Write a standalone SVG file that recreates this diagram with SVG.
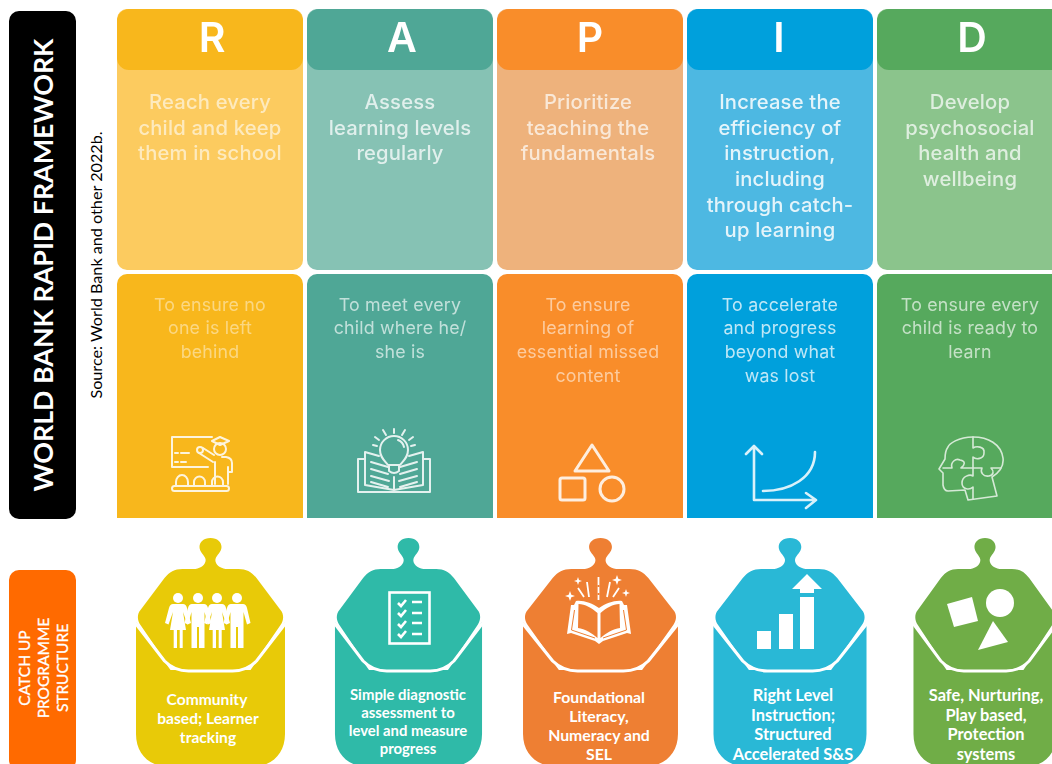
<svg xmlns="http://www.w3.org/2000/svg" xmlns:xlink="http://www.w3.org/1999/xlink" width="1052" height="764" viewBox="0 0 1052 764">
<style>
.up{font:500 20.2px Inter,"Noto Sans",sans-serif;fill:#fff;text-anchor:middle;letter-spacing:.2px}
.lo{font:400 17.8px Inter,"Noto Sans",sans-serif;fill:#fff;text-anchor:middle;letter-spacing:.2px}
.hd{font:600 41px Inter,"Noto Sans",sans-serif;fill:#fff;text-anchor:middle}
.pod{font:700 15.6px Lato,sans-serif;fill:#fff;text-anchor:middle}
.p2{font-size:14.9px}
.p3{font-size:15.8px}
.p4{font-size:16.4px}
.ic{fill:none;stroke:#fff;stroke-width:2;stroke-linecap:round;stroke-linejoin:round;opacity:.85}
.w{fill:#fff}
.wl{fill:none;stroke:#fff;stroke-width:2.6}
.side{font:400 15.5px Lato,sans-serif;fill:#fff;stroke:#fff;stroke-width:.3;text-anchor:middle}
</style>
<defs>
<filter id="soft" x="-5%" y="-5%" width="110%" height="110%"><feGaussianBlur stdDeviation="0.5"/></filter>
<g id="shell">
<path d="M0,538C7,538 11,542 11,547C11,552 6,555 5,559C4,564 9,568 15,569L28,569C36,569 41,572 46,578L70,610C73.500,614 73.500,620 70,625L46,660C38,668 30,670 22,670L-22,670C-30,670 -38,668 -46,660L-70,625C-73.500,620 -73.500,614 -70,610L-46,578C-41,572 -36,569 -28,569L-15,569C-9,568 -4,564 -5,559C-6,555 -11,552 -11,547C-11,542 -7,538 0,538Z"/>
<path d="M-74.500,622L-74.500,734C-74.500,755 -60,767 -40,767L40,767C60,767 74.500,755 74.500,734L74.500,622L40,670L-40,670Z"/>
<path d="M-76,622L-46,661C-38,669 -30,671 -22,671L22,671C30,671 38,669 46,661L76,622" fill="none" stroke="#fff" stroke-width="3"/>
</g>
<g id="person-m" class="w"><circle cx="0" cy="598" r="5"/><path d="M-6,604H6Q9,604 10,608L13.500,623L10,624.500L6.500,612V648H1V627H-1V648H-6.500V612L-10,624.500L-13.500,623L-10,608Q-9,604 -6,604Z"/></g>
<g id="person-f" class="w"><circle cx="0" cy="598" r="5"/><path d="M-5,604H5Q8,604 9,608L13,623L9.500,624.500L5,612L8,630H4.700V648H1.700V630H-1V648H-4.300V630H-8L-5,612L-9.500,624.500L-13,623L-9,608Q-8,604 -5,604Z"/></g>
</defs>
<rect width="1052" height="764" fill="#fff"/>

<g id="label-framework">
<rect x="9" y="11" width="67" height="508" rx="10" fill="#000"/>
<text transform="translate(53,265) rotate(-90)" text-anchor="middle" style="font:700 26.800px Lato,sans-serif;fill:#fff">WORLD BANK RAPID FRAMEWORK</text>
</g>
<g id="source">
<text transform="translate(102,265) rotate(-90)" text-anchor="middle" style="font:400 16.200px Lato,sans-serif;fill:#000">Source: World Bank and other 2022b.</text>
</g>

<g id="col-r" filter="url(#soft)">
<rect x="117" y="9" width="186" height="261" rx="10" fill="#fccb5e"/>
<rect x="117" y="9" width="186" height="61" rx="12" fill="#f8b71c"/>
<path d="M117,518V284a10,10 0 0 1 10-10H293a10,10 0 0 1 10,10V518Z" fill="#f8b71c"/>
<text class="hd" x="212" y="52">R</text>
<g opacity=".6"><text class="up" x="210" y="109">Reach every</text><text class="up" x="210" y="135">child and keep</text><text class="up" x="210" y="160">them in school</text></g>
<g opacity=".45"><text class="lo" x="210" y="311">To ensure no</text><text class="lo" x="210" y="334">one is left</text><text class="lo" x="210" y="358">behind</text></g>
<g class="ic"><path d="M212,437H172V467H208M175,453h3M181,453h8M175,462h3M181,462h5M203,448L214,455M199,453L213,462M222,457H226Q232,458 232,463V472H228V467M215,462V484M228,472V484"/><circle cx="200" cy="450" r="3"/><circle cx="220" cy="449" r="6"/><path d="M212,441L220,437L229,441L220,445ZM176,486V482a6,7 0 0 1 12,0V486M194,486V482a5.500,5.500 0 0 1 11,0V486M212,486V482a5.500,5.500 0 0 1 11,0V486"/><rect x="172" y="486" width="57" height="5" rx="2.500"/></g>
</g>

<g id="col-a" filter="url(#soft)">
<rect x="307" y="9" width="186" height="261" rx="10" fill="#86c2b4"/>
<rect x="307" y="9" width="186" height="61" rx="12" fill="#4fa796"/>
<path d="M307,518V284a10,10 0 0 1 10-10H483a10,10 0 0 1 10,10V518Z" fill="#4fa796"/>
<text class="hd" x="402" y="52">A</text>
<g opacity=".75"><text class="up" x="400" y="109">Assess</text><text class="up" x="400" y="135">learning levels</text><text class="up" x="400" y="160">regularly</text></g>
<g opacity=".65"><text class="lo" x="400" y="311">To meet every</text><text class="lo" x="400" y="334">child where he/</text><text class="lo" x="400" y="358">she is</text></g>
<g class="ic"><path d="M388,465C384,460 380,457 380,450a14,14 0 0 1 28,0C408,457 404,460 400,465ZM389,465V471Q394,475 399,471V465M398,440Q403,442 404,447M394,429V433M383,430L386,435M405,430L402,435M375,437L379,440M413,437L409,440M373,445L377,446M415,445L411,446"/><path d="M379,456L365,452V485L394,490L423,485V452L409,456M365,459H358V492H430V459H423M394,477V492M371,462L388,467M371,469L388,474M371,476L389,481M371,482L388,487M417,462L400,467M417,469L400,474M417,476L399,481M417,482L400,487"/></g>
</g>

<g id="col-p" filter="url(#soft)">
<rect x="497" y="9" width="186" height="261" rx="10" fill="#eeb27b"/>
<rect x="497" y="9" width="186" height="61" rx="12" fill="#f98d2a"/>
<path d="M497,518V284a10,10 0 0 1 10-10H673a10,10 0 0 1 10,10V518Z" fill="#f98d2a"/>
<text class="hd" x="590" y="52">P</text>
<g opacity=".7"><text class="up" x="588" y="109">Prioritize</text><text class="up" x="588" y="135">teaching the</text><text class="up" x="588" y="160">fundamentals</text></g>
<g opacity=".55"><text class="lo" x="588" y="311">To ensure</text><text class="lo" x="588" y="334">learning of</text><text class="lo" x="588" y="358">essential missed</text><text class="lo" x="588" y="382">content</text></g>
<g class="ic" style="stroke-width:3"><path d="M592,445L609,471H575Z"/><rect x="560" y="478" width="25" height="22" rx="2"/><circle cx="612" cy="489" r="12"/></g>
</g>

<g id="col-i" filter="url(#soft)">
<rect x="687" y="9" width="186" height="261" rx="10" fill="#4db8e2"/>
<rect x="687" y="9" width="186" height="61" rx="12" fill="#00a0dc"/>
<path d="M687,518V284a10,10 0 0 1 10-10H863a10,10 0 0 1 10,10V518Z" fill="#00a0dc"/>
<text class="hd" x="779" y="52">I</text>
<g opacity=".85"><text class="up" x="780" y="109">Increase the</text><text class="up" x="780" y="135">efficiency of</text><text class="up" x="780" y="160">instruction,</text><text class="up" x="780" y="186">including</text><text class="up" x="780" y="212">through catch-</text><text class="up" x="780" y="237">up learning</text></g>
<g opacity=".75"><text class="lo" x="780" y="311">To accelerate</text><text class="lo" x="780" y="334">and progress</text><text class="lo" x="780" y="358">beyond what</text><text class="lo" x="780" y="382">was lost</text></g>
<g class="ic" style="stroke-width:2.600"><path d="M754,446V500H815M746,454L754,446L762,454M806,493L816,500L806,508M763,491C790,491 815,478 815,452"/></g>
</g>

<g id="col-d" filter="url(#soft)">
<rect x="877" y="9" width="190" height="261" rx="10" fill="#8bc48c"/>
<rect x="877" y="9" width="190" height="61" rx="12" fill="#57a95d"/>
<path d="M877,518V284a10,10 0 0 1 10-10H1080V518Z" fill="#57a95d"/>
<text class="hd" x="972" y="52">D</text>
<g opacity=".72"><text class="up" x="970" y="109">Develop</text><text class="up" x="970" y="135">psychosocial</text><text class="up" x="970" y="160">health and</text><text class="up" x="970" y="186">wellbeing</text></g>
<g opacity=".65"><text class="lo" x="970" y="311">To ensure every</text><text class="lo" x="970" y="334">child is ready to</text><text class="lo" x="970" y="358">learn</text></g>
<g class="ic" style="stroke-width:1.600;opacity:.75"><path d="M968,500L997,496L992,477C1000,472 1004,466 1003,458C1001,444 988,437 973,437C958,437 949,444 948,447C945,451 945,455 945,459L939,469L943,473V485Q944,491 948,491L965,490Z"/><path d="M973,437V448C976,446 985,446 984,453C984,459 976,460 973,457V476C970,474 962,476 962,483C962,490 970,490 973,487V499"/><path d="M943,468H952C950,462 956,458 960,460C966,461 965,465 961,468H982C980,472 983,477 989,476C994,475 994,471 991,468H1001"/></g>
</g>

<g id="label-catchup">
<rect x="9" y="570" width="67" height="200" rx="10" fill="#ff6a00"/>
<text class="side" transform="translate(30,668) rotate(-90)">CATCH UP</text>
<text class="side" transform="translate(49,668) rotate(-90)">PROGRAMME</text>
<text class="side" transform="translate(68,668) rotate(-90)">STRUCTURE</text>
</g>

<g id="pod-community">
<use xlink:href="#shell" href="#shell" transform="translate(210.500,0)" fill="#e8ca08"/>
<use href="#person-f" xlink:href="#person-f" x="178"/><use href="#person-m" xlink:href="#person-m" x="198"/><use href="#person-f" xlink:href="#person-f" x="217"/><use href="#person-m" xlink:href="#person-m" x="237"/>
<text class="pod" x="207" y="705">Community</text><text class="pod" x="208" y="724">based; Learner</text><text class="pod" x="208" y="743">tracking</text>
</g>

<g id="pod-diagnostic">
<use href="#shell" xlink:href="#shell" transform="translate(408.500,0) scale(.987,1)" fill="#2fbaa8"/>
<rect x="389.500" y="592.500" width="40" height="51" class="wl"/>
<path d="M398,603l3,3l5-6M398,613l3,3l5-6M398,624l3,3l5-6M398,634l3,3l5-6" class="wl"/>
<path d="M412,602H422M412,613H422M412,623H422M412,634H422" class="wl"/>
<text class="pod p2" x="408" y="700">Simple diagnostic</text><text class="pod p2" x="408" y="718">assessment to</text><text class="pod p2" x="408" y="736">level and measure</text><text class="pod p2" x="408" y="754">progress</text>
</g>

<g id="pod-foundational">
<use href="#shell" xlink:href="#shell" transform="translate(600.500,0) scale(1.040,1)" fill="#ee7f33"/>
<path class="w" d="M599,608C592,603 583,600 576,601L574,605L571,605L567,634L571,633L595,641L599,644L603,641L627,633L631,634L627,605L624,605L622,601C615,600 606,603 599,608Z"/>
<path d="M597.500,613C592,608 585,604 578.500,604L578,628C585,629 592,633 597.500,638ZM600.500,613C606,608 613,604 619.500,604L620,628C613,629 606,633 600.500,638Z" fill="#ee7f33"/>
<path d="M574.500,610L571.500,630L595,638M623.500,610L626.500,630L603,638" fill="none" stroke="#ee7f33" stroke-width="1"/>
<path d="M598.500,577V600M587,582L589,597M578,588L584,597M610,582L607,597M619,588L613,597" stroke="#fff" stroke-width="1.800" fill="none"/>
<path d="M598.500,585v2M598.500,593v2" stroke="#ee7f33" stroke-width="2" fill="none"/>
<path class="w" d="M578,577l1,3l3,1l-3,1l-1,3l-1-3l-3-1l3-1ZM570,591l1.300,3.700l3.700,1.300l-3.700,1.300l-1.300,3.700l-1.300-3.700l-3.700-1.300l3.700-1.300ZM617,575l1.300,3.700l3.700,1.300l-3.700,1.300l-1.300,3.700l-1.300-3.700l-3.700-1.300l3.700-1.300ZM626,589l1,3l3,1l-3,1l-1,3l-1-3l-3-1l3-1Z"/>
<text class="pod p3" x="599" y="703">Foundational</text><text class="pod p3" x="599" y="722">Literacy,</text><text class="pod p3" x="599" y="741">Numeracy and</text><text class="pod p3" x="599" y="760">SEL</text>
</g>

<g id="pod-rightlevel">
<use href="#shell" xlink:href="#shell" transform="translate(790,0) scale(1.027,1)" fill="#29b8d6"/>
<path class="w" d="M757,631H771V649H757ZM779,614H793V649H779ZM800,597H814V649H800ZM800,593H814V589H822L807,574L792,589H800Z"/>
<text class="pod p4" x="793" y="701">Right Level</text><text class="pod p4" x="793" y="721">Instruction;</text><text class="pod p4" x="793" y="740">Structured</text><text class="pod p4" x="793" y="760">Accelerated S&amp;S</text>
</g>

<g id="pod-safe">
<use href="#shell" xlink:href="#shell" transform="translate(985,0) scale(.96,1)" fill="#70ad47"/>
<path class="w" d="M947,604L972,597L978,621L954,627Z"/><circle class="w" cx="1000" cy="603" r="14"/><path class="w" d="M993,621L1008,642L978,650Z"/>
<text class="pod p4" x="986" y="701">Safe, Nurturing,</text><text class="pod p4" x="986" y="721">Play based,</text><text class="pod p4" x="986" y="740">Protection</text><text class="pod p4" x="986" y="760">systems</text>
</g>
</svg>
